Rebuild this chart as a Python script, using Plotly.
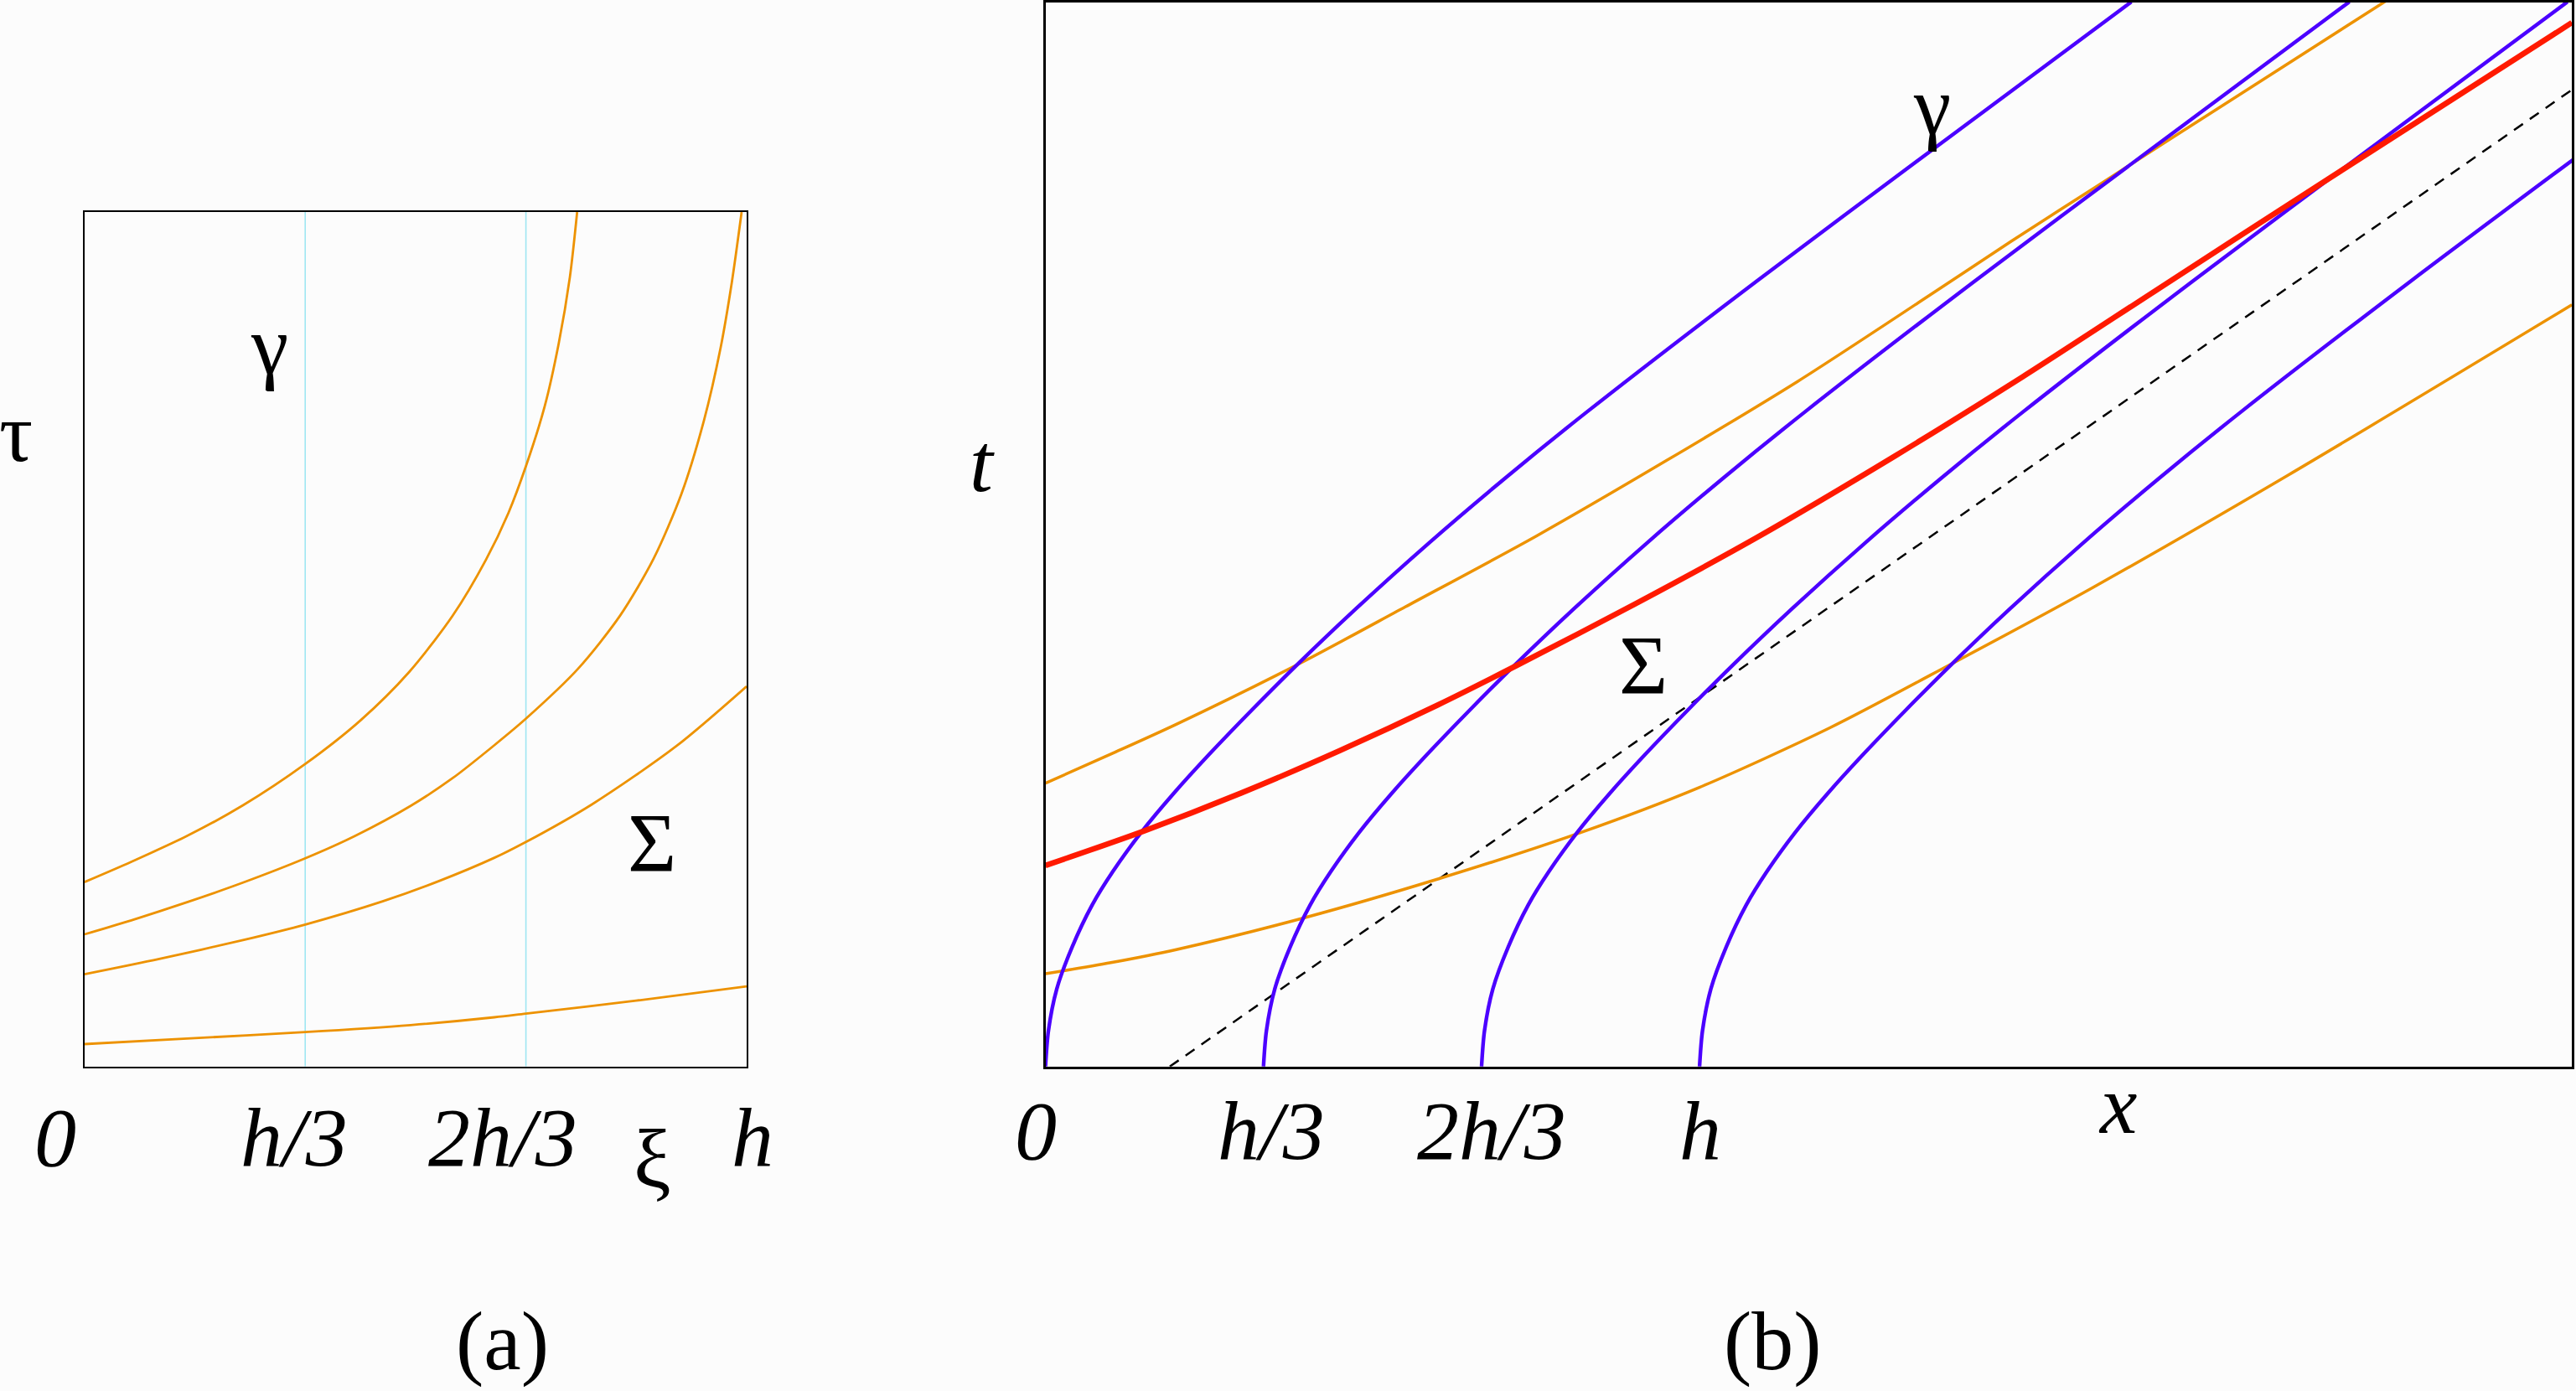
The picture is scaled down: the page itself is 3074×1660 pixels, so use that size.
import plotly.graph_objects as go

W, H = 3074, 1660

# ---- panel (a): xi in units of h, tau in units of h ----
xi_a = [0, 0.0707, 0.155, 0.2394, 0.3335, 0.4166, 0.49, 0.5558, 0.6064, 0.6402, 0.6668, 0.695, 0.7161, 0.733, 0.744]
tau_a = [0.2786, 0.3092, 0.3483, 0.3945, 0.457, 0.5226, 0.5955, 0.6805, 0.7655, 0.836, 0.907, 0.997, 1.0915, 1.192, 1.2904]
xi_b = [0, 0.0707, 0.155, 0.2394, 0.3335, 0.4082, 0.4925, 0.5558, 0.6191, 0.6668, 0.7456, 0.8089, 0.8595, 0.9017, 0.9355, 0.9608, 0.9776, 0.9924]
tau_b = [0.1997, 0.2208, 0.2482, 0.2778, 0.3145, 0.3481, 0.3936, 0.4354, 0.4854, 0.5255, 0.601, 0.681, 0.767, 0.8653, 0.9757, 1.0862, 1.1843, 1.2904]
xi_c = [0, 0.1129, 0.2394, 0.3335, 0.4503, 0.5347, 0.6191, 0.6667, 0.7668, 0.8933, 1.0]
tau_c = [0.1394, 0.1625, 0.191, 0.2145, 0.2495, 0.2799, 0.3153, 0.3391, 0.3962, 0.4835, 0.5742]
xi_d = [0, 0.155, 0.3335, 0.4925, 0.6191, 0.6667, 0.833, 1.0]
tau_d = [0.0339, 0.0423, 0.052, 0.0626, 0.0744, 0.08, 0.0995, 0.121]
grid_xi = [1 / 3, 2 / 3]
tau_max = 1.2904

# ---- panel (b): x and t in units of h ----
blue_t = [0, 0.0546, 0.1187, 0.1827, 0.2467, 0.298, 0.3578, 0.4175, 0.4773, 0.5456, 0.614, 0.7, 0.8, 0.9, 1.0, 1.2, 1.4, 1.627]
blue1_x = [0, 0.0045, 0.0173, 0.0408, 0.0713, 0.103, 0.1463, 0.1961, 0.2505, 0.3162, 0.3846, 0.4751, 0.5862, 0.7038, 0.8273, 1.087, 1.3546, 1.6602]
blue2_x = [0.3333, 0.3378, 0.3506, 0.3741, 0.4046, 0.4363, 0.4796, 0.5294, 0.5838, 0.6495, 0.7179, 0.8084, 0.9195, 1.0371, 1.1606, 1.4203, 1.6879, 1.9935]
blue3_x = [0.6667, 0.6712, 0.684, 0.7075, 0.738, 0.7697, 0.813, 0.8628, 0.9172, 0.9829, 1.0513, 1.1418, 1.2529, 1.3705, 1.494, 1.7537, 2.0213, 2.3269]
blue4_x = [1.0, 1.0045, 1.0173, 1.0408, 1.0713, 1.103, 1.1463, 1.1961, 1.2505, 1.3162, 1.3846, 1.4751, 1.5862, 1.7038, 1.8273, 2.087, 2.3546]

orange_top_x = [0, 0.1, 0.2, 0.3893, 0.55, 0.7505, 0.95, 1.15, 1.35, 1.4764, 1.6086, 1.8, 2.0496]
orange_top_t = [0.433, 0.4775, 0.523, 0.6163, 0.7024, 0.8107, 0.9264, 1.047, 1.1775, 1.261, 1.346, 1.4689, 1.6285]
orange_bot_x = [0, 0.1, 0.2, 0.3947, 0.6, 0.818, 1.0, 1.2, 1.387, 1.6, 1.9, 2.3337]
orange_bot_t = [0.1418, 0.1588, 0.1788, 0.2271, 0.2866, 0.3575, 0.4267, 0.518, 0.6163, 0.7313, 0.9038, 1.164]

red_x = [0, 0.15, 0.3, 0.45, 0.6, 0.7209, 0.9, 1.0878, 1.3, 1.4944, 1.7, 1.9256, 2.3337]
red_t = [0.3073, 0.3598, 0.4183, 0.4828, 0.5526, 0.6131, 0.7062, 0.8085, 0.9337, 1.0542, 1.1875, 1.3335, 1.5952]

dashed_x = [0.19, 2.334]
dashed_t = [0.0, 1.4928]

x_max, t_max = 2.334, 1.626

ORANGE = "#ED9200"
BLUE = "#4B00FF"
RED = "#FF1A00"
CYAN = "#9FE6F2"
FONT = "Liberation Serif"

fig = go.Figure()

# panel (a)
for v in grid_xi:
    fig.add_trace(go.Scatter(x=[v, v], y=[0, tau_max], mode="lines",
                             line=dict(color=CYAN, width=1.6), xaxis="x", yaxis="y"))
for xs, ys in [(xi_a, tau_a), (xi_b, tau_b), (xi_c, tau_c), (xi_d, tau_d)]:
    fig.add_trace(go.Scatter(x=xs, y=ys, mode="lines",
                             line=dict(color=ORANGE, width=2.8, shape="spline", smoothing=0.8),
                             xaxis="x", yaxis="y"))

# panel (b)
fig.add_trace(go.Scatter(x=dashed_x, y=dashed_t, mode="lines",
                         line=dict(color="black", width=2.5, dash="13px,10px"),
                         xaxis="x2", yaxis="y2"))
for xs, ys in [(orange_top_x, orange_top_t), (orange_bot_x, orange_bot_t)]:
    fig.add_trace(go.Scatter(x=xs, y=ys, mode="lines",
                             line=dict(color=ORANGE, width=3.5, shape="spline", smoothing=0.8),
                             xaxis="x2", yaxis="y2"))
for xs in [blue1_x, blue2_x, blue3_x, blue4_x]:
    fig.add_trace(go.Scatter(x=xs, y=blue_t[:len(xs)], mode="lines",
                             line=dict(color=BLUE, width=4.4, shape="spline", smoothing=0.8),
                             xaxis="x2", yaxis="y2"))
fig.add_trace(go.Scatter(x=red_x, y=red_t, mode="lines",
                         line=dict(color=RED, width=6.6, shape="spline", smoothing=0.8),
                         xaxis="x2", yaxis="y2"))


def px(x):
    return x / W


def py(y):
    return 1 - y / H


# labels: (text, pixel x, pixel y of box centre)
labels = [
    ("τ", 19, 516), ("γ", 321, 412), ("Σ", 778, 1005),
    ("<i>0</i>", 66, 1357), ("<i>h/3</i>", 351, 1357), ("<i>2h/3</i>", 600, 1357),
    ("ξ", 778, 1382), ("<i>h</i>", 898, 1357), ("(a)", 599, 1600),
    ("<i>t</i>", 1172, 552), ("γ", 2305, 126), ("Σ", 1961, 793),
    ("<i>0</i>", 1236, 1349), ("<i>h/3</i>", 1517, 1349), ("<i>2h/3</i>", 1780, 1349),
    ("<i>h</i>", 2029, 1349), ("<i>x</i>", 2527, 1318), ("(b)", 2115, 1600),
]
annotations = [dict(text=t, x=px(x), y=py(y), xref="paper", yref="paper",
                    xanchor="center", yanchor="middle", showarrow=False,
                    font=dict(family=FONT, size=100, color="black"))
               for t, x, y in labels]

axis_common = dict(showgrid=False, zeroline=False, showticklabels=False, ticks="",
                   showline=True, mirror=True, linecolor="black", fixedrange=True)

fig.update_layout(
    width=W, height=H,
    margin=dict(l=0, r=0, t=0, b=0),
    paper_bgcolor="#fcfcfc", plot_bgcolor="#fcfcfc",
    showlegend=False,
    hovermode=False,
    xaxis=dict(domain=[px(100.8), px(891)], range=[0, 1], anchor="y", linewidth=2.2, **axis_common),
    yaxis=dict(domain=[py(1272.8), py(253.1)], range=[0, tau_max], anchor="x", linewidth=2.2, **axis_common),
    xaxis2=dict(domain=[px(1247.6), px(3069.3)], range=[0, x_max], anchor="y2", linewidth=2.8, **axis_common),
    yaxis2=dict(domain=[py(1272.8), py(3)], range=[0, t_max], anchor="x2", linewidth=2.8, **axis_common),
    annotations=annotations,
)

# the page body has a default 8px margin; drop it so the figure fills the window
fig.write_html("out.html", config={"displayModeBar": False},
               post_script="document.body.style.margin = '0';")
